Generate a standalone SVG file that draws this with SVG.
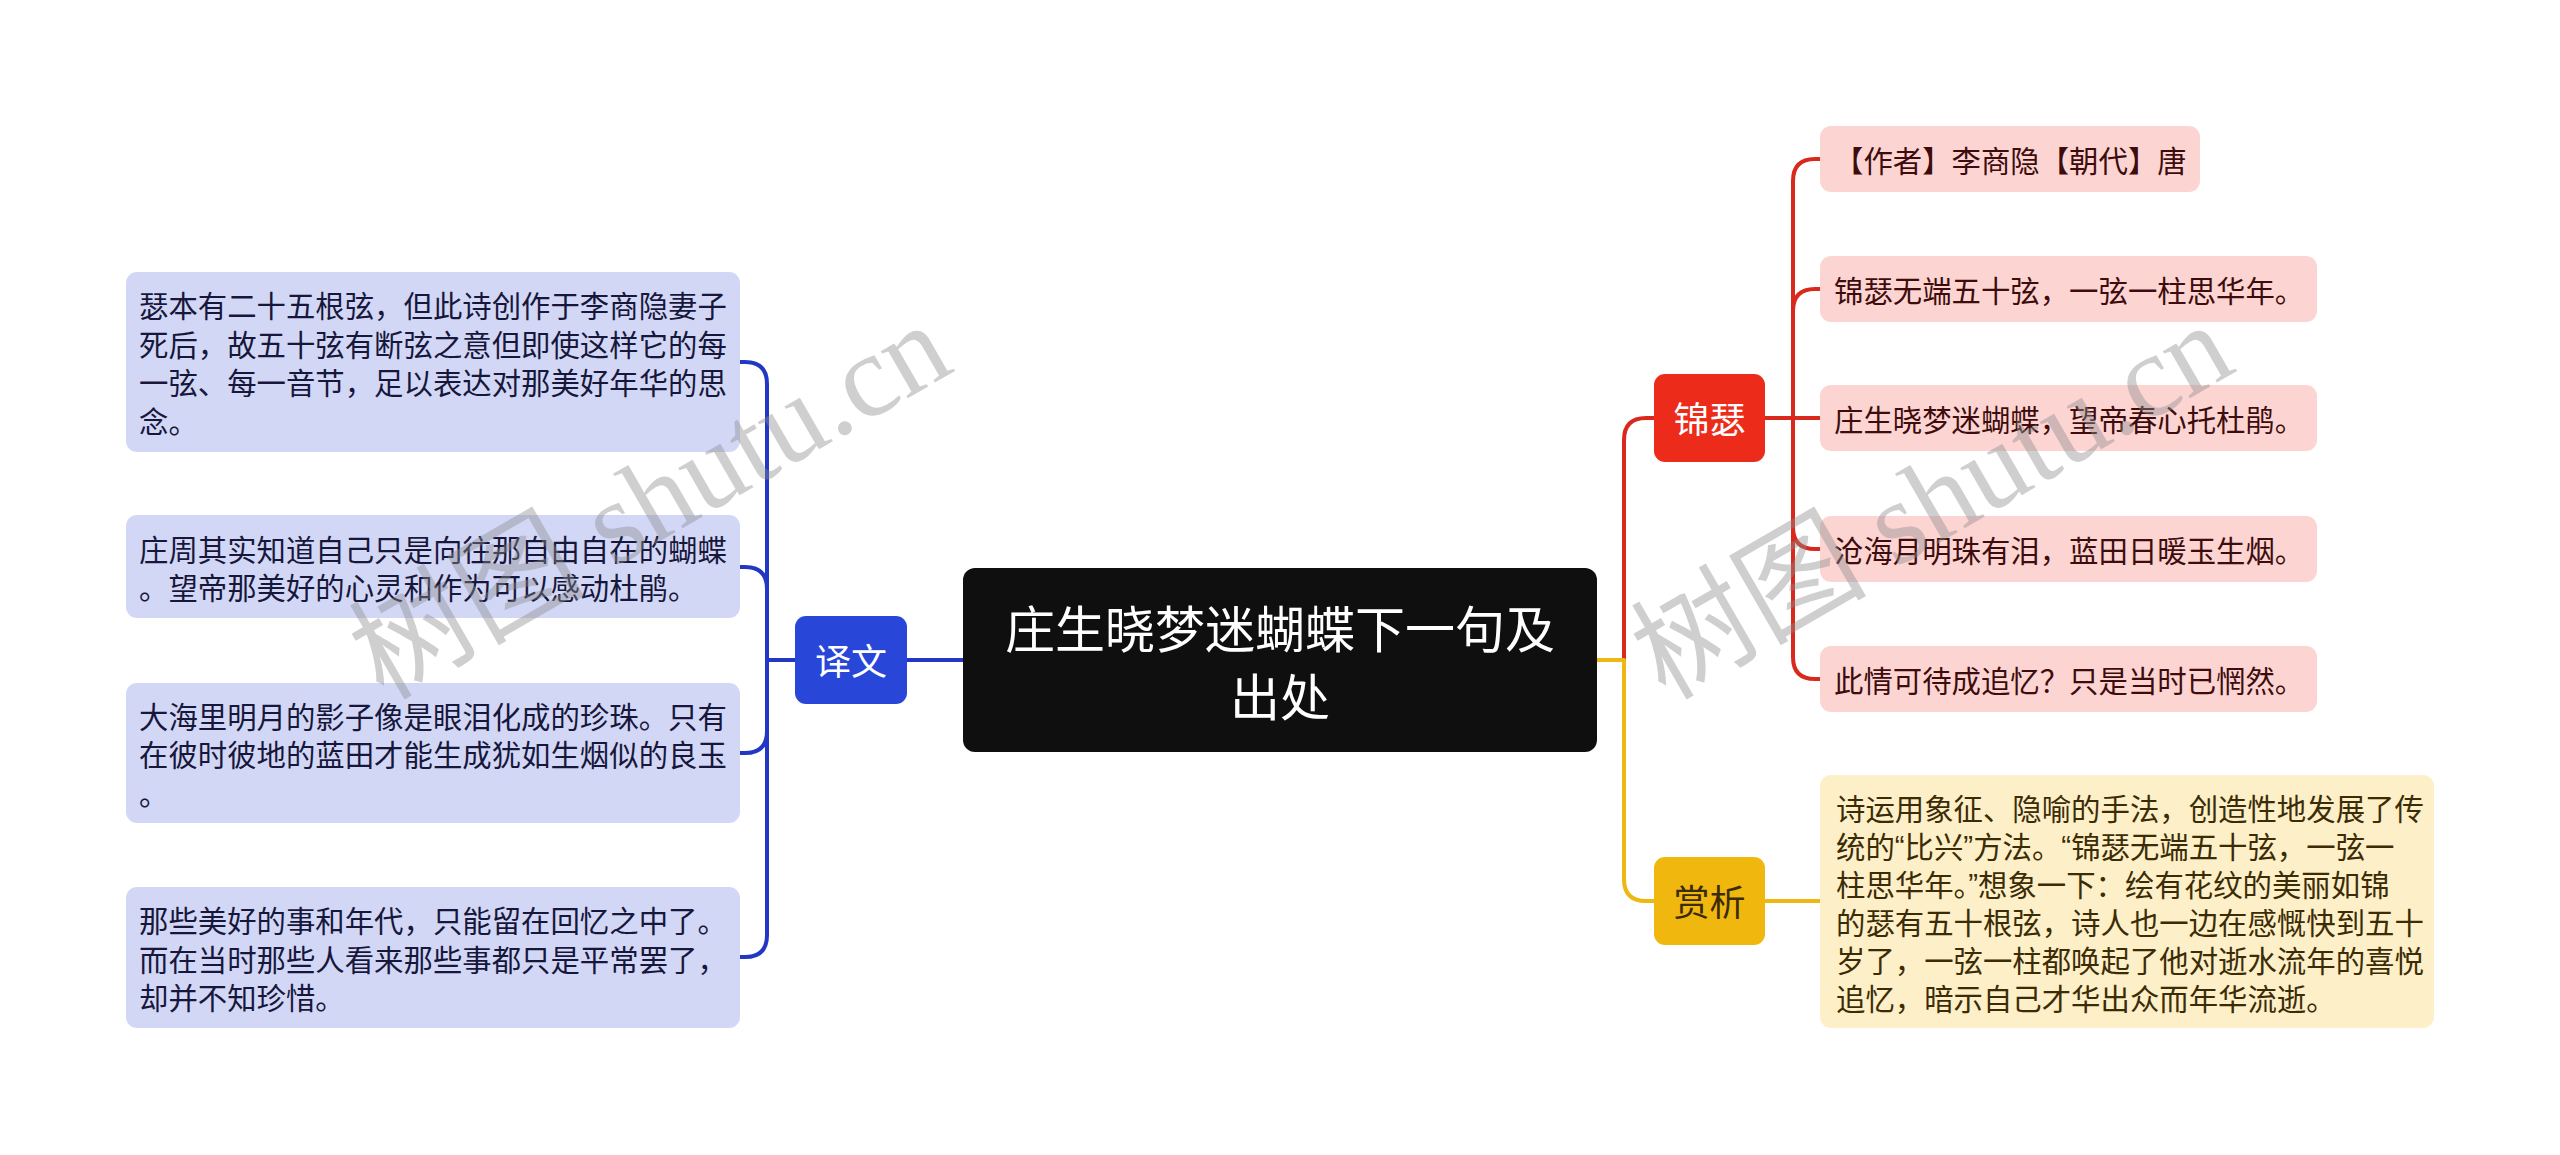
<svg xmlns="http://www.w3.org/2000/svg" width="2560" height="1155" viewBox="0 0 2560 1155">
<style>
text{font-family:"Noto Sans CJK SC","Noto Sans",sans-serif;dominant-baseline:central}
.leaf{font-size:29.4px}
.lb{fill:#d3d7f6}
.lt{fill:#17173c}
.rb{fill:#fcd5d3}
.rt{fill:#3e0c0c}
.yb{fill:#fdefc8}
.yt{fill:#3b2c06}
.q{font-family:"Liberation Sans",sans-serif}
.con{fill:none;stroke-width:4;stroke-linejoin:round}
.blue{stroke:#2238c4}
.red{stroke:#d9291c}
.yel{stroke:#eeb712}
.wm{font-family:"Liberation Serif","Noto Sans CJK SC",serif;font-size:118px;fill:#8c8c8c;fill-opacity:0.42;dominant-baseline:auto}
</style>
<rect width="2560" height="1155" fill="#ffffff"/>
<g id="connectors">
<path class="con blue" d="M963 660H907"/>
<path class="con blue" d="M795 660H767V384Q767 362 745 362H740"/>
<path class="con blue" d="M795 660H767V589Q767 567 745 567H740"/>
<path class="con blue" d="M795 660H767V731Q767 753 745 753H740"/>
<path class="con blue" d="M795 660H767V935Q767 957 745 957H740"/>
<path class="con red" d="M1597 660H1624V440Q1624 418 1646 418H1654"/>
<path class="con yel" d="M1597 660H1624V879Q1624 901 1646 901H1654"/>
<path class="con red" d="M1765 418H1793V181Q1793 159 1815 159H1820"/>
<path class="con red" d="M1765 418H1793V311Q1793 289 1815 289H1820"/>
<path class="con red" d="M1765 418H1820"/>
<path class="con red" d="M1765 418H1793V527Q1793 549 1815 549H1820"/>
<path class="con red" d="M1765 418H1793V657Q1793 679 1815 679H1820"/>
<path class="con yel" d="M1765 901H1820"/>
</g>
<g id="root">
<rect x="963" y="568" width="634" height="184" rx="12" fill="#0f0f0f"/>
<text x="1280" y="626" font-size="50" fill="#ffffff" text-anchor="middle">庄生晓梦迷蝴蝶下一句及</text>
<text x="1280" y="694" font-size="50" fill="#ffffff" text-anchor="middle">出处</text>
</g>
<g id="node-yiwen">
<rect x="795" y="616" width="112" height="88" rx="11" fill="#2846d8"/>
<text x="851" y="659" font-size="36" fill="#ffffff" text-anchor="middle">译文</text>
</g>
<g id="leaf-yw1" class="leaf">
<rect class="lb" x="126" y="272" width="614" height="180" rx="11"/>
<text class="lt" x="139" y="304">瑟本有二十五根弦，但此诗创作于李商隐妻子</text>
<text class="lt" x="139" y="342.5">死后，故五十弦有断弦之意但即使这样它的每</text>
<text class="lt" x="139" y="381">一弦、每一音节，足以表达对那美好年华的思</text>
<text class="lt" x="139" y="419.5">念。</text>
</g>
<g id="leaf-yw2" class="leaf">
<rect class="lb" x="126" y="515" width="614" height="103" rx="11"/>
<text class="lt" x="139" y="547.5">庄周其实知道自己只是向往那自由自在的蝴蝶</text>
<text class="lt" x="139" y="586">。望帝那美好的心灵和作为可以感动杜鹃。</text>
</g>
<g id="leaf-yw3" class="leaf">
<rect class="lb" x="126" y="683" width="614" height="140" rx="11"/>
<text class="lt" x="139" y="714.5">大海里明月的影子像是眼泪化成的珍珠。只有</text>
<text class="lt" x="139" y="753">在彼时彼地的蓝田才能生成犹如生烟似的良玉</text>
<text class="lt" x="139" y="791.5">。</text>
</g>
<g id="leaf-yw4" class="leaf">
<rect class="lb" x="126" y="887" width="614" height="141" rx="11"/>
<text class="lt" x="139" y="919">那些美好的事和年代，只能留在回忆之中了。</text>
<text class="lt" x="139" y="957.5">而在当时那些人看来那些事都只是平常罢了，</text>
<text class="lt" x="139" y="996">却并不知珍惜。</text>
</g>
<g id="node-jinse">
<rect x="1654" y="374" width="111" height="88" rx="11" fill="#ec2b1a"/>
<text x="1709.5" y="417" font-size="36" fill="#ffffff" text-anchor="middle">锦瑟</text>
</g>
<g id="leaf-js1" class="leaf">
<rect class="rb" x="1820" y="126" width="380" height="66" rx="11"/>
<text class="rt" x="1834" y="159">【作者】李商隐【朝代】唐</text>
</g>
<g id="leaf-js2" class="leaf">
<rect class="rb" x="1820" y="256" width="497" height="66" rx="11"/>
<text class="rt" x="1834" y="289">锦瑟无端五十弦，一弦一柱思华年。</text>
</g>
<g id="leaf-js3" class="leaf">
<rect class="rb" x="1820" y="385" width="497" height="66" rx="11"/>
<text class="rt" x="1834" y="418">庄生晓梦迷蝴蝶，望帝春心托杜鹃。</text>
</g>
<g id="leaf-js4" class="leaf">
<rect class="rb" x="1820" y="516" width="497" height="66" rx="11"/>
<text class="rt" x="1834" y="549">沧海月明珠有泪，蓝田日暖玉生烟。</text>
</g>
<g id="leaf-js5" class="leaf">
<rect class="rb" x="1820" y="646" width="497" height="66" rx="11"/>
<text class="rt" x="1834" y="679">此情可待成追忆？只是当时已惘然。</text>
</g>
<g id="node-shangxi">
<rect x="1654" y="857" width="111" height="88" rx="11" fill="#f0b70f"/>
<text x="1709.5" y="900" font-size="36" fill="#3b2c06" text-anchor="middle">赏析</text>
</g>
<g id="leaf-sx1" class="leaf">
<rect class="yb" x="1820" y="775" width="614" height="253" rx="11"/>
<text class="yt" x="1836" y="807">诗运用象征、隐喻的手法，创造性地发展了传</text>
<text class="yt" x="1836" y="845">统的<tspan class="q">“</tspan>比兴<tspan class="q">”</tspan>方法。<tspan class="q">“</tspan>锦瑟无端五十弦，一弦一</text>
<text class="yt" x="1836" y="883">柱思华年。<tspan class="q">”</tspan>想象一下：绘有花纹的美丽如锦</text>
<text class="yt" x="1836" y="921">的瑟有五十根弦，诗人也一边在感慨快到五十</text>
<text class="yt" x="1836" y="959">岁了，一弦一柱都唤起了他对逝水流年的喜悦</text>
<text class="yt" x="1836" y="997">追忆，暗示自己才华出众而年华流逝。</text>
</g>
<g id="watermark">
<text class="wm" x="653" y="540" text-anchor="middle" transform="rotate(-30 653 506)">树图 shutu.cn</text>
<text class="wm" x="1935" y="540" text-anchor="middle" transform="rotate(-30 1935 506)">树图 shutu.cn</text>
</g>
</svg>
